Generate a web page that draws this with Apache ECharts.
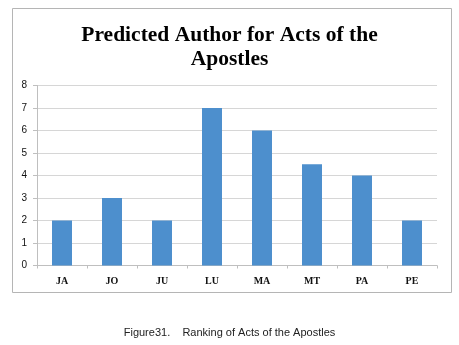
<!DOCTYPE html>
<html>
<head>
<meta charset="utf-8">
<script src="https://cdn.jsdelivr.net/npm/echarts@6/dist/echarts.min.js"></script>
<style>
  html, body { margin: 0; padding: 0; background: #fff; }
  #chart { width: 459px; height: 345px; }
</style>
</head>
<body>
<div id="chart"></div>
<script>
// Authors and the predicted-author counts for Acts of the Apostles
const authors = ['JA', 'JO', 'JU', 'LU', 'MA', 'MT', 'PA', 'PE'];
const counts = [2, 3, 2, 7, 6, 4.5, 4, 2];
const yTicks = [0, 1, 2, 3, 4, 5, 6, 7, 8];

const chart = echarts.init(document.getElementById('chart'), null, { renderer: 'canvas' });

chart.setOption({
  animation: false,
  backgroundColor: '#ffffff',
  title: {
    text: 'Predicted Author for Acts of the\nApostles',
    left: 'center',
    top: 18,
    textStyle: {
      fontFamily: 'Liberation Serif',
      fontWeight: 'bold',
      fontSize: 21.5,
      lineHeight: 24,
      color: '#000'
    }
  },
  graphic: [
    {
      type: 'rect',
      shape: { x: 12.5, y: 8.5, width: 439, height: 284 },
      style: { fill: null, stroke: '#b5b5b5', lineWidth: 1 },
      silent: true
    },
    {
      type: 'text',
      left: 'center',
      top: 327,
      style: {
        text: 'Figure31.    Ranking of Acts of the Apostles',
        font: '11px "Liberation Sans", Arial, sans-serif',
        fill: '#222'
      }
    }
  ],
  grid: {
    left: 37,
    right: 22,
    top: 85.5,
    height: 180
  },
  xAxis: {
    type: 'category',
    data: authors,
    axisLine: { lineStyle: { color: '#bfbfbf' } },
    axisTick: { show: true, length: 3, lineStyle: { color: '#bfbfbf' } },
    axisLabel: {
      margin: 11,
      fontFamily: 'Liberation Serif',
      fontWeight: 'bold',
      fontSize: 10,
      color: '#111'
    }
  },
  yAxis: {
    type: 'value',
    min: yTicks[0],
    max: yTicks[yTicks.length - 1],
    interval: 1,
    axisLine: { show: true, lineStyle: { color: '#bfbfbf' } },
    axisTick: { show: true, length: 4, lineStyle: { color: '#bfbfbf' } },
    splitLine: { lineStyle: { color: '#d6d6d6', width: 1 } },
    axisLabel: {
      margin: 10,
      fontFamily: 'Liberation Sans',
      fontSize: 10,
      color: '#111'
    }
  },
  series: [
    {
      type: 'bar',
      data: counts,
      barWidth: '40%',
      itemStyle: { color: '#4d8fcd' }
    }
  ]
});
</script>
</body>
</html>
